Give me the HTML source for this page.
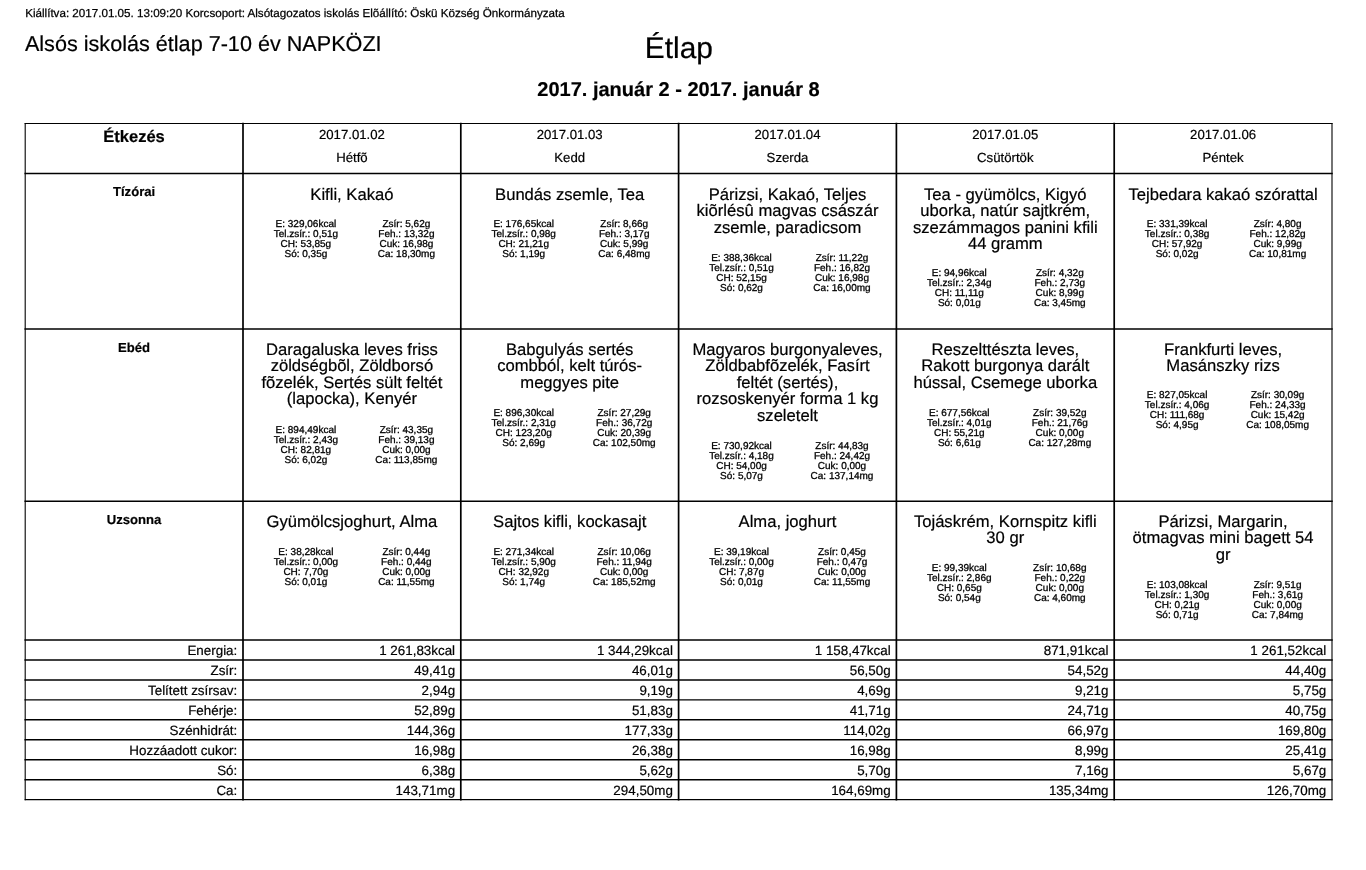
<!DOCTYPE html>
<html lang="hu">
<head>
<meta charset="utf-8">
<title>Étlap</title>
<style>
html,body{margin:0;padding:0;background:#fff;}
body{width:1366px;height:870px;position:relative;overflow:hidden;font-family:"Liberation Sans",sans-serif;color:#000;text-rendering:geometricPrecision;}
div{position:absolute;white-space:nowrap;}
.c{text-align:center;}
.r{text-align:right;}
#grid{position:absolute;left:0;top:0;}
.top{font-size:11.64px;line-height:14px;-webkit-text-stroke:0.25px #000;}
.sub{font-size:21.62px;line-height:26px;-webkit-text-stroke:0.2px #000;}
.title{font-size:29.9px;line-height:36px;-webkit-text-stroke:0.2px #000;}
.range{font-size:20.0px;line-height:24px;-webkit-text-stroke:0.2px #000;font-weight:bold;}
.etk{font-size:16.5px;line-height:20px;-webkit-text-stroke:0.2px #000;font-weight:bold;}
.date{font-size:13.2px;line-height:16px;-webkit-text-stroke:0.2px #000;}
.lab{font-size:13.1px;line-height:16px;-webkit-text-stroke:0.2px #000;font-weight:bold;}
.meal{font-size:16.63px;line-height:20px;-webkit-text-stroke:0.2px #000;}
.nut{font-size:10px;line-height:12px;-webkit-text-stroke:0.3px #000;}
.sum{font-size:13.4px;line-height:16px;-webkit-text-stroke:0.2px #000;}
.nut{width:140px;text-align:center;}

</style>
</head>
<body>
<svg id="grid" width="1366" height="870" viewBox="0 0 1366 870" fill="none" stroke="#000" stroke-linecap="square">
<g stroke-width="1.1">
<line x1="25.2" y1="123.50" x2="1332.0" y2="123.50"/>
<line x1="25.2" y1="799.60" x2="1332.0" y2="799.60"/>
<line x1="25.2" y1="123.50" x2="25.2" y2="799.60"/>
<line x1="1332.0" y1="123.50" x2="1332.0" y2="799.60"/>
</g>
<g stroke-width="1.45">
<line x1="25.2" y1="173.45" x2="1332.0" y2="173.45"/>
<line x1="25.2" y1="329.00" x2="1332.0" y2="329.00"/>
<line x1="25.2" y1="501.15" x2="1332.0" y2="501.15"/>
<line x1="25.2" y1="640.00" x2="1332.0" y2="640.00"/>
<line x1="25.2" y1="659.95" x2="1332.0" y2="659.95"/>
<line x1="25.2" y1="679.90" x2="1332.0" y2="679.90"/>
<line x1="25.2" y1="699.85" x2="1332.0" y2="699.85"/>
<line x1="25.2" y1="719.80" x2="1332.0" y2="719.80"/>
<line x1="25.2" y1="739.75" x2="1332.0" y2="739.75"/>
<line x1="25.2" y1="759.70" x2="1332.0" y2="759.70"/>
<line x1="25.2" y1="779.65" x2="1332.0" y2="779.65"/>
</g>
<g stroke-width="1.7">
<line x1="243.0" y1="123.50" x2="243.0" y2="799.60"/>
<line x1="460.8" y1="123.50" x2="460.8" y2="799.60"/>
<line x1="678.6" y1="123.50" x2="678.6" y2="799.60"/>
<line x1="896.4" y1="123.50" x2="896.4" y2="799.60"/>
<line x1="1114.2" y1="123.50" x2="1114.2" y2="799.60"/>
</g>
</svg>
<header>
<div class="top" style="left:25.2px;top:7px">Kiállítva: 2017.01.05. 13:09:20 Korcsoport: Alsótagozatos iskolás Elõállító: Öskü Község Önkormányzata</div>
<div class="sub" style="left:24.9px;top:31px">Alsós iskolás étlap 7-10 év NAPKÖZI</div>
<div class="title c" style="left:478.9px;top:31px;width:400.0px">Étlap</div>
<div class="range c" style="left:378.5px;top:78px;width:600.0px">2017. január 2 - 2017. január 8</div>
</header>
<main>
<section class="head-row">
<div class="etk c" style="left:25.2px;top:127px;width:217.8px">Étkezés</div>
<div class="date c" style="left:243.0px;top:127px;width:217.8px">2017.01.02</div>
<div class="date c" style="left:243.0px;top:150px;width:217.8px">Hétfõ</div>
<div class="date c" style="left:460.8px;top:127px;width:217.8px">2017.01.03</div>
<div class="date c" style="left:460.8px;top:150px;width:217.8px">Kedd</div>
<div class="date c" style="left:678.6px;top:127px;width:217.8px">2017.01.04</div>
<div class="date c" style="left:678.6px;top:150px;width:217.8px">Szerda</div>
<div class="date c" style="left:896.4px;top:127px;width:217.8px">2017.01.05</div>
<div class="date c" style="left:896.4px;top:150px;width:217.8px">Csütörtök</div>
<div class="date c" style="left:1114.2px;top:127px;width:217.8px">2017.01.06</div>
<div class="date c" style="left:1114.2px;top:150px;width:217.8px">Péntek</div>
</section>
<section class="meal-row">
<div class="lab c" style="left:25.2px;top:184px;width:217.8px">Tízórai</div>
<div class="meal c" style="left:243.0px;top:185px;width:217.8px">Kifli, Kakaó</div>
<div class="nut" style="left:235.9px;top:219px">E: 329,06kcal</div>
<div class="nut" style="left:336.4px;top:219px">Zsír: 5,62g</div>
<div class="nut" style="left:235.9px;top:229px">Tel.zsír.: 0,51g</div>
<div class="nut" style="left:336.4px;top:229px">Feh.: 13,32g</div>
<div class="nut" style="left:235.9px;top:239px">CH: 53,85g</div>
<div class="nut" style="left:336.4px;top:239px">Cuk: 16,98g</div>
<div class="nut" style="left:235.9px;top:249px">Só: 0,35g</div>
<div class="nut" style="left:336.4px;top:249px">Ca: 18,30mg</div>
<div class="meal c" style="left:460.8px;top:185px;width:217.8px">Bundás zsemle, Tea</div>
<div class="nut" style="left:453.7px;top:219px">E: 176,65kcal</div>
<div class="nut" style="left:554.2px;top:219px">Zsír: 8,66g</div>
<div class="nut" style="left:453.7px;top:229px">Tel.zsír.: 0,98g</div>
<div class="nut" style="left:554.2px;top:229px">Feh.: 3,17g</div>
<div class="nut" style="left:453.7px;top:239px">CH: 21,21g</div>
<div class="nut" style="left:554.2px;top:239px">Cuk: 5,99g</div>
<div class="nut" style="left:453.7px;top:249px">Só: 1,19g</div>
<div class="nut" style="left:554.2px;top:249px">Ca: 6,48mg</div>
<div class="meal c" style="left:678.6px;top:185px;width:217.8px">Párizsi, Kakaó, Teljes</div>
<div class="meal c" style="left:678.6px;top:201px;width:217.8px">kiõrlésû magvas császár</div>
<div class="meal c" style="left:678.6px;top:218px;width:217.8px">zsemle, paradicsom</div>
<div class="nut" style="left:671.5px;top:253px">E: 388,36kcal</div>
<div class="nut" style="left:772.0px;top:253px">Zsír: 11,22g</div>
<div class="nut" style="left:671.5px;top:263px">Tel.zsír.: 0,51g</div>
<div class="nut" style="left:772.0px;top:263px">Feh.: 16,82g</div>
<div class="nut" style="left:671.5px;top:273px">CH: 52,15g</div>
<div class="nut" style="left:772.0px;top:273px">Cuk: 16,98g</div>
<div class="nut" style="left:671.5px;top:283px">Só: 0,62g</div>
<div class="nut" style="left:772.0px;top:283px">Ca: 16,00mg</div>
<div class="meal c" style="left:896.4px;top:185px;width:217.8px">Tea - gyümölcs, Kigyó</div>
<div class="meal c" style="left:896.4px;top:201px;width:217.8px">uborka, natúr sajtkrém,</div>
<div class="meal c" style="left:896.4px;top:218px;width:217.8px">szezámmagos panini kfili</div>
<div class="meal c" style="left:896.4px;top:234px;width:217.8px">44 gramm</div>
<div class="nut" style="left:889.3px;top:268px">E: 94,96kcal</div>
<div class="nut" style="left:989.8px;top:268px">Zsír: 4,32g</div>
<div class="nut" style="left:889.3px;top:278px">Tel.zsír.: 2,34g</div>
<div class="nut" style="left:989.8px;top:278px">Feh.: 2,73g</div>
<div class="nut" style="left:889.3px;top:288px">CH: 11,11g</div>
<div class="nut" style="left:989.8px;top:288px">Cuk: 8,99g</div>
<div class="nut" style="left:889.3px;top:298px">Só: 0,01g</div>
<div class="nut" style="left:989.8px;top:298px">Ca: 3,45mg</div>
<div class="meal c" style="left:1114.2px;top:185px;width:217.8px">Tejbedara kakaó szórattal</div>
<div class="nut" style="left:1107.1px;top:219px">E: 331,39kcal</div>
<div class="nut" style="left:1207.6px;top:219px">Zsír: 4,80g</div>
<div class="nut" style="left:1107.1px;top:229px">Tel.zsír.: 0,38g</div>
<div class="nut" style="left:1207.6px;top:229px">Feh.: 12,82g</div>
<div class="nut" style="left:1107.1px;top:239px">CH: 57,92g</div>
<div class="nut" style="left:1207.6px;top:239px">Cuk: 9,99g</div>
<div class="nut" style="left:1107.1px;top:249px">Só: 0,02g</div>
<div class="nut" style="left:1207.6px;top:249px">Ca: 10,81mg</div>
</section>
<section class="meal-row">
<div class="lab c" style="left:25.2px;top:340px;width:217.8px">Ebéd</div>
<div class="meal c" style="left:243.0px;top:340px;width:217.8px">Daragaluska leves friss</div>
<div class="meal c" style="left:243.0px;top:356px;width:217.8px">zöldségbõl, Zöldborsó</div>
<div class="meal c" style="left:243.0px;top:373px;width:217.8px">fõzelék, Sertés sült feltét</div>
<div class="meal c" style="left:243.0px;top:389px;width:217.8px">(lapocka), Kenyér</div>
<div class="nut" style="left:235.9px;top:425px">E: 894,49kcal</div>
<div class="nut" style="left:336.4px;top:425px">Zsír: 43,35g</div>
<div class="nut" style="left:235.9px;top:435px">Tel.zsír.: 2,43g</div>
<div class="nut" style="left:336.4px;top:435px">Feh.: 39,13g</div>
<div class="nut" style="left:235.9px;top:445px">CH: 82,81g</div>
<div class="nut" style="left:336.4px;top:445px">Cuk: 0,00g</div>
<div class="nut" style="left:235.9px;top:455px">Só: 6,02g</div>
<div class="nut" style="left:336.4px;top:455px">Ca: 113,85mg</div>
<div class="meal c" style="left:460.8px;top:340px;width:217.8px">Babgulyás sertés</div>
<div class="meal c" style="left:460.8px;top:356px;width:217.8px">combból, kelt túrós-</div>
<div class="meal c" style="left:460.8px;top:373px;width:217.8px">meggyes pite</div>
<div class="nut" style="left:453.7px;top:408px">E: 896,30kcal</div>
<div class="nut" style="left:554.2px;top:408px">Zsír: 27,29g</div>
<div class="nut" style="left:453.7px;top:418px">Tel.zsír.: 2,31g</div>
<div class="nut" style="left:554.2px;top:418px">Feh.: 36,72g</div>
<div class="nut" style="left:453.7px;top:428px">CH: 123,20g</div>
<div class="nut" style="left:554.2px;top:428px">Cuk: 20,39g</div>
<div class="nut" style="left:453.7px;top:438px">Só: 2,69g</div>
<div class="nut" style="left:554.2px;top:438px">Ca: 102,50mg</div>
<div class="meal c" style="left:678.6px;top:340px;width:217.8px">Magyaros burgonyaleves,</div>
<div class="meal c" style="left:678.6px;top:356px;width:217.8px">Zöldbabfõzelék, Fasírt</div>
<div class="meal c" style="left:678.6px;top:373px;width:217.8px">feltét (sertés),</div>
<div class="meal c" style="left:678.6px;top:389px;width:217.8px">rozsoskenyér forma 1 kg</div>
<div class="meal c" style="left:678.6px;top:406px;width:217.8px">szeletelt</div>
<div class="nut" style="left:671.5px;top:441px">E: 730,92kcal</div>
<div class="nut" style="left:772.0px;top:441px">Zsír: 44,83g</div>
<div class="nut" style="left:671.5px;top:451px">Tel.zsír.: 4,18g</div>
<div class="nut" style="left:772.0px;top:451px">Feh.: 24,42g</div>
<div class="nut" style="left:671.5px;top:461px">CH: 54,00g</div>
<div class="nut" style="left:772.0px;top:461px">Cuk: 0,00g</div>
<div class="nut" style="left:671.5px;top:471px">Só: 5,07g</div>
<div class="nut" style="left:772.0px;top:471px">Ca: 137,14mg</div>
<div class="meal c" style="left:896.4px;top:340px;width:217.8px">Reszelttészta leves,</div>
<div class="meal c" style="left:896.4px;top:356px;width:217.8px">Rakott burgonya darált</div>
<div class="meal c" style="left:896.4px;top:373px;width:217.8px">hússal, Csemege uborka</div>
<div class="nut" style="left:889.3px;top:408px">E: 677,56kcal</div>
<div class="nut" style="left:989.8px;top:408px">Zsír: 39,52g</div>
<div class="nut" style="left:889.3px;top:418px">Tel.zsír.: 4,01g</div>
<div class="nut" style="left:989.8px;top:418px">Feh.: 21,76g</div>
<div class="nut" style="left:889.3px;top:428px">CH: 55,21g</div>
<div class="nut" style="left:989.8px;top:428px">Cuk: 0,00g</div>
<div class="nut" style="left:889.3px;top:438px">Só: 6,61g</div>
<div class="nut" style="left:989.8px;top:438px">Ca: 127,28mg</div>
<div class="meal c" style="left:1114.2px;top:340px;width:217.8px">Frankfurti leves,</div>
<div class="meal c" style="left:1114.2px;top:356px;width:217.8px">Masánszky rizs</div>
<div class="nut" style="left:1107.1px;top:390px">E: 827,05kcal</div>
<div class="nut" style="left:1207.6px;top:390px">Zsír: 30,09g</div>
<div class="nut" style="left:1107.1px;top:400px">Tel.zsír.: 4,06g</div>
<div class="nut" style="left:1207.6px;top:400px">Feh.: 24,33g</div>
<div class="nut" style="left:1107.1px;top:410px">CH: 111,68g</div>
<div class="nut" style="left:1207.6px;top:410px">Cuk: 15,42g</div>
<div class="nut" style="left:1107.1px;top:420px">Só: 4,95g</div>
<div class="nut" style="left:1207.6px;top:420px">Ca: 108,05mg</div>
</section>
<section class="meal-row">
<div class="lab c" style="left:25.2px;top:512px;width:217.8px">Uzsonna</div>
<div class="meal c" style="left:243.0px;top:512px;width:217.8px">Gyümölcsjoghurt, Alma</div>
<div class="nut" style="left:235.9px;top:547px">E: 38,28kcal</div>
<div class="nut" style="left:336.4px;top:547px">Zsír: 0,44g</div>
<div class="nut" style="left:235.9px;top:557px">Tel.zsír.: 0,00g</div>
<div class="nut" style="left:336.4px;top:557px">Feh.: 0,44g</div>
<div class="nut" style="left:235.9px;top:567px">CH: 7,70g</div>
<div class="nut" style="left:336.4px;top:567px">Cuk: 0,00g</div>
<div class="nut" style="left:235.9px;top:577px">Só: 0,01g</div>
<div class="nut" style="left:336.4px;top:577px">Ca: 11,55mg</div>
<div class="meal c" style="left:460.8px;top:512px;width:217.8px">Sajtos kifli, kockasajt</div>
<div class="nut" style="left:453.7px;top:547px">E: 271,34kcal</div>
<div class="nut" style="left:554.2px;top:547px">Zsír: 10,06g</div>
<div class="nut" style="left:453.7px;top:557px">Tel.zsír.: 5,90g</div>
<div class="nut" style="left:554.2px;top:557px">Feh.: 11,94g</div>
<div class="nut" style="left:453.7px;top:567px">CH: 32,92g</div>
<div class="nut" style="left:554.2px;top:567px">Cuk: 0,00g</div>
<div class="nut" style="left:453.7px;top:577px">Só: 1,74g</div>
<div class="nut" style="left:554.2px;top:577px">Ca: 185,52mg</div>
<div class="meal c" style="left:678.6px;top:512px;width:217.8px">Alma, joghurt</div>
<div class="nut" style="left:671.5px;top:547px">E: 39,19kcal</div>
<div class="nut" style="left:772.0px;top:547px">Zsír: 0,45g</div>
<div class="nut" style="left:671.5px;top:557px">Tel.zsír.: 0,00g</div>
<div class="nut" style="left:772.0px;top:557px">Feh.: 0,47g</div>
<div class="nut" style="left:671.5px;top:567px">CH: 7,87g</div>
<div class="nut" style="left:772.0px;top:567px">Cuk: 0,00g</div>
<div class="nut" style="left:671.5px;top:577px">Só: 0,01g</div>
<div class="nut" style="left:772.0px;top:577px">Ca: 11,55mg</div>
<div class="meal c" style="left:896.4px;top:512px;width:217.8px">Tojáskrém, Kornspitz kifli</div>
<div class="meal c" style="left:896.4px;top:528px;width:217.8px">30 gr</div>
<div class="nut" style="left:889.3px;top:563px">E: 99,39kcal</div>
<div class="nut" style="left:989.8px;top:563px">Zsír: 10,68g</div>
<div class="nut" style="left:889.3px;top:573px">Tel.zsír.: 2,86g</div>
<div class="nut" style="left:989.8px;top:573px">Feh.: 0,22g</div>
<div class="nut" style="left:889.3px;top:583px">CH: 0,65g</div>
<div class="nut" style="left:989.8px;top:583px">Cuk: 0,00g</div>
<div class="nut" style="left:889.3px;top:593px">Só: 0,54g</div>
<div class="nut" style="left:989.8px;top:593px">Ca: 4,60mg</div>
<div class="meal c" style="left:1114.2px;top:512px;width:217.8px">Párizsi, Margarin,</div>
<div class="meal c" style="left:1114.2px;top:528px;width:217.8px">ötmagvas mini bagett 54</div>
<div class="meal c" style="left:1114.2px;top:545px;width:217.8px">gr</div>
<div class="nut" style="left:1107.1px;top:580px">E: 103,08kcal</div>
<div class="nut" style="left:1207.6px;top:580px">Zsír: 9,51g</div>
<div class="nut" style="left:1107.1px;top:590px">Tel.zsír.: 1,30g</div>
<div class="nut" style="left:1207.6px;top:590px">Feh.: 3,61g</div>
<div class="nut" style="left:1107.1px;top:600px">CH: 0,21g</div>
<div class="nut" style="left:1207.6px;top:600px">Cuk: 0,00g</div>
<div class="nut" style="left:1107.1px;top:610px">Só: 0,71g</div>
<div class="nut" style="left:1207.6px;top:610px">Ca: 7,84mg</div>
</section>
<section class="summary">
<div class="sum r" style="left:25.2px;top:643px;width:212.1px">Energia:</div>
<div class="sum r" style="left:243.0px;top:643px;width:212.1px">1 261,83kcal</div>
<div class="sum r" style="left:460.8px;top:643px;width:212.1px">1 344,29kcal</div>
<div class="sum r" style="left:678.6px;top:643px;width:212.1px">1 158,47kcal</div>
<div class="sum r" style="left:896.4px;top:643px;width:212.1px">871,91kcal</div>
<div class="sum r" style="left:1114.2px;top:643px;width:212.1px">1 261,52kcal</div>
<div class="sum r" style="left:25.2px;top:663px;width:212.1px">Zsír:</div>
<div class="sum r" style="left:243.0px;top:663px;width:212.1px">49,41g</div>
<div class="sum r" style="left:460.8px;top:663px;width:212.1px">46,01g</div>
<div class="sum r" style="left:678.6px;top:663px;width:212.1px">56,50g</div>
<div class="sum r" style="left:896.4px;top:663px;width:212.1px">54,52g</div>
<div class="sum r" style="left:1114.2px;top:663px;width:212.1px">44,40g</div>
<div class="sum r" style="left:25.2px;top:683px;width:212.1px">Telített zsírsav:</div>
<div class="sum r" style="left:243.0px;top:683px;width:212.1px">2,94g</div>
<div class="sum r" style="left:460.8px;top:683px;width:212.1px">9,19g</div>
<div class="sum r" style="left:678.6px;top:683px;width:212.1px">4,69g</div>
<div class="sum r" style="left:896.4px;top:683px;width:212.1px">9,21g</div>
<div class="sum r" style="left:1114.2px;top:683px;width:212.1px">5,75g</div>
<div class="sum r" style="left:25.2px;top:703px;width:212.1px">Fehérje:</div>
<div class="sum r" style="left:243.0px;top:703px;width:212.1px">52,89g</div>
<div class="sum r" style="left:460.8px;top:703px;width:212.1px">51,83g</div>
<div class="sum r" style="left:678.6px;top:703px;width:212.1px">41,71g</div>
<div class="sum r" style="left:896.4px;top:703px;width:212.1px">24,71g</div>
<div class="sum r" style="left:1114.2px;top:703px;width:212.1px">40,75g</div>
<div class="sum r" style="left:25.2px;top:723px;width:212.1px">Szénhidrát:</div>
<div class="sum r" style="left:243.0px;top:723px;width:212.1px">144,36g</div>
<div class="sum r" style="left:460.8px;top:723px;width:212.1px">177,33g</div>
<div class="sum r" style="left:678.6px;top:723px;width:212.1px">114,02g</div>
<div class="sum r" style="left:896.4px;top:723px;width:212.1px">66,97g</div>
<div class="sum r" style="left:1114.2px;top:723px;width:212.1px">169,80g</div>
<div class="sum r" style="left:25.2px;top:743px;width:212.1px">Hozzáadott cukor:</div>
<div class="sum r" style="left:243.0px;top:743px;width:212.1px">16,98g</div>
<div class="sum r" style="left:460.8px;top:743px;width:212.1px">26,38g</div>
<div class="sum r" style="left:678.6px;top:743px;width:212.1px">16,98g</div>
<div class="sum r" style="left:896.4px;top:743px;width:212.1px">8,99g</div>
<div class="sum r" style="left:1114.2px;top:743px;width:212.1px">25,41g</div>
<div class="sum r" style="left:25.2px;top:763px;width:212.1px">Só:</div>
<div class="sum r" style="left:243.0px;top:763px;width:212.1px">6,38g</div>
<div class="sum r" style="left:460.8px;top:763px;width:212.1px">5,62g</div>
<div class="sum r" style="left:678.6px;top:763px;width:212.1px">5,70g</div>
<div class="sum r" style="left:896.4px;top:763px;width:212.1px">7,16g</div>
<div class="sum r" style="left:1114.2px;top:763px;width:212.1px">5,67g</div>
<div class="sum r" style="left:25.2px;top:783px;width:212.1px">Ca:</div>
<div class="sum r" style="left:243.0px;top:783px;width:212.1px">143,71mg</div>
<div class="sum r" style="left:460.8px;top:783px;width:212.1px">294,50mg</div>
<div class="sum r" style="left:678.6px;top:783px;width:212.1px">164,69mg</div>
<div class="sum r" style="left:896.4px;top:783px;width:212.1px">135,34mg</div>
<div class="sum r" style="left:1114.2px;top:783px;width:212.1px">126,70mg</div>
</section>
</main>
</body>
</html>
